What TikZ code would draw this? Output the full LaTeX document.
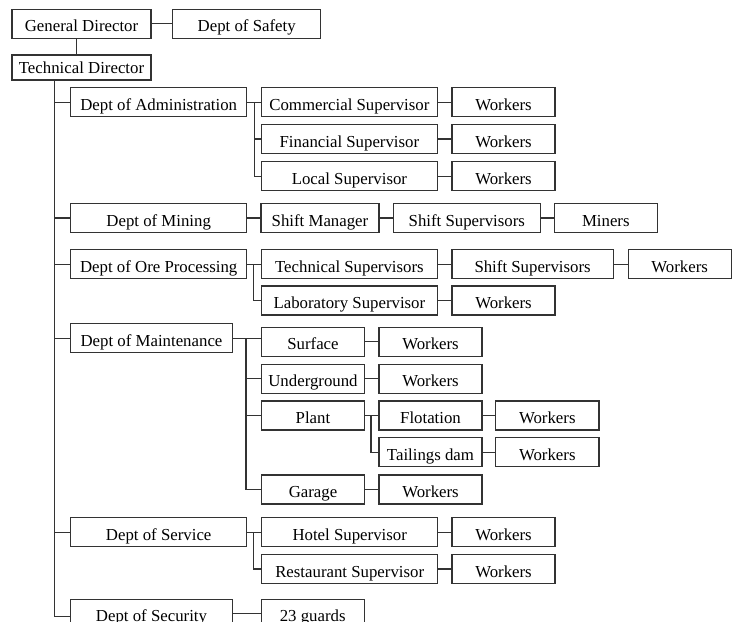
\documentclass[tikz,border=0pt]{standalone}
\usepackage{fontspec}
\setmainfont{Liberation Serif}
\begin{document}
\begin{tikzpicture}[x=1pt,y=-1pt,
  line width=1.1pt,
  bx/.style={draw=black!80,rectangle,inner sep=0pt,text height=16pt,text depth=0pt,minimum height=29pt,font=\fontsize{16.8}{20}\selectfont},
  conn/.style={draw=black!80,line width=1.1pt}]
\useasboundingbox (0,0) rectangle (736,621);
\clip (0,0) rectangle (736,621);
% top
\node[bx,minimum width=139pt] (gd) at (81.5,23.8) {General Director};
\node[bx,minimum width=148pt] (safety) at (246.7,23.8) {Dept of Safety};
\node[bx,minimum width=139pt,minimum height=25pt,text height=11.6pt] (td) at (81.5,67.5) {Technical Director};
% departments
\node[bx,minimum width=176pt] (admin) at (158.7,102.2) {Dept of Administration};
\node[bx,minimum width=176pt] (mining) at (158.7,218) {Dept of Mining};
\node[bx,minimum width=176pt] (ore) at (158.7,264.2) {Dept of Ore Processing};
\node[bx,minimum width=161.6pt] (maint) at (151.5,338.2) {Dept of Maintenance};
\node[bx,minimum width=176pt] (service) at (158.7,532.2) {Dept of Service};
\node[bx,minimum width=161.6pt] (security) at (151.5,613.8) {Dept of Security};
% level 2
\node[bx,minimum width=176.7pt] (commercial) at (349.4,102.2) {Commercial Supervisor};
\node[bx,minimum width=176.7pt] (financial) at (349.4,139) {Financial Supervisor};
\node[bx,minimum width=176.7pt] (local) at (349.4,176.2) {Local Supervisor};
\node[bx,minimum width=118pt] (shiftman) at (320,218) {Shift Manager};
\node[bx,minimum width=176.7pt] (techsup) at (349.4,264.2) {Technical Supervisors};
\node[bx,minimum width=176.7pt] (lab) at (349.4,300.5) {Laboratory Supervisor};
\node[bx,minimum width=102.6pt] (surface) at (313,341.8) {Surface};
\node[bx,minimum width=102.6pt] (underground) at (313,378.8) {Underground};
\node[bx,minimum width=102.6pt] (plant) at (313,415.5) {Plant};
\node[bx,minimum width=102.6pt] (garage) at (313,489.5) {Garage};
\node[bx,minimum width=176pt] (hotel) at (349.7,532.2) {Hotel Supervisor};
\node[bx,minimum width=176pt] (restaurant) at (349.7,569) {Restaurant Supervisor};
\node[bx,minimum width=103.3pt] (guards) at (312.7,613.8) {23 guards};
% level 3
\node[bx,minimum width=103pt] (w1) at (503.5,102.2) {Workers};
\node[bx,minimum width=103pt] (w2) at (503.5,139) {Workers};
\node[bx,minimum width=103pt] (w3) at (503.5,176.2) {Workers};
\node[bx,minimum width=147pt] (shiftsupm) at (466.8,218) {Shift Supervisors};
\node[bx,minimum width=161.3pt] (shiftsupo) at (532.6,264.2) {Shift Supervisors};
\node[bx,minimum width=103pt] (w5) at (503.5,300.5) {Workers};
\node[bx,minimum width=103pt] (w6) at (430.5,341.8) {Workers};
\node[bx,minimum width=103pt] (w7) at (430.5,378.8) {Workers};
\node[bx,minimum width=103pt] (flotation) at (430.5,415.5) {Flotation};
\node[bx,minimum width=103pt] (tailings) at (430.5,452.2) {Tailings dam};
\node[bx,minimum width=103pt] (w10) at (430.5,489.5) {Workers};
\node[bx,minimum width=103pt] (w11) at (503.5,532.2) {Workers};
\node[bx,minimum width=103pt] (w12) at (503.5,569) {Workers};
% level 4
\node[bx,minimum width=103pt] (miners) at (605.8,218) {Miners};
\node[bx,minimum width=103.3pt] (w4) at (679.7,264.2) {Workers};
\node[bx,minimum width=103.3pt] (w8) at (547.3,415.5) {Workers};
\node[bx,minimum width=103.3pt] (w9) at (547.3,452.2) {Workers};
% connectors top
\draw[conn] (gd.east) -- (safety.west);
\draw[conn] ([xshift=-5pt]gd.south) -- ([xshift=-5pt]td.north);
% trunk
\coordinate (t0) at (54.3,80);
\draw[conn] (t0) |- ([yshift=-2.8pt]security.west);
\foreach \d in {admin,mining,ore,maint,service}
  \draw[conn] (t0 |- \d.west) -- (\d.west);
% administration
\draw[conn] (admin.east) -- (commercial.west);
\coordinate (ja) at (254.3,102.2);
\draw[conn] (ja) |- (financial.west);
\draw[conn] (ja) |- (local.west);
\draw[conn] (commercial.east) -- (w1.west);
\draw[conn] (financial.east) -- (w2.west);
\draw[conn] (local.east) -- (w3.west);
% mining
\draw[conn] (mining.east) -- (shiftman.west);
\draw[conn] (shiftman.east) -- (shiftsupm.west);
\draw[conn] (shiftsupm.east) -- (miners.west);
% ore
\draw[conn] (ore.east) -- (techsup.west);
\coordinate (jo) at (253.3,264.2);
\draw[conn] (jo) |- (lab.west);
\draw[conn] (techsup.east) -- (shiftsupo.west);
\draw[conn] (shiftsupo.east) -- (w4.west);
\draw[conn] (lab.east) -- (w5.west);
% maintenance
\draw[conn] (maint.east) -- (maint.east -| surface.west);
\coordinate (jm) at (246,338.2);
\draw[conn] (jm) |- (underground.west);
\draw[conn] (jm) |- (plant.west);
\draw[conn] (jm) |- (garage.west);
\draw[conn] (surface.east) -- (w6.west);
\draw[conn] (underground.east) -- (w7.west);
\draw[conn] (plant.east) -- (flotation.west);
\coordinate (jp) at (371,415.5);
\draw[conn] (jp) |- (tailings.west);
\draw[conn] (flotation.east) -- (w8.west);
\draw[conn] (tailings.east) -- (w9.west);
\draw[conn] (garage.east) -- (w10.west);
% service
\draw[conn] (service.east) -- (hotel.west);
\coordinate (js) at (253.3,532.2);
\draw[conn] (js) |- (restaurant.west);
\draw[conn] (hotel.east) -- (w11.west);
\draw[conn] (restaurant.east) -- (w12.west);
% security
\draw[conn] (security.east) -- (guards.west);
\end{tikzpicture}
\end{document}
